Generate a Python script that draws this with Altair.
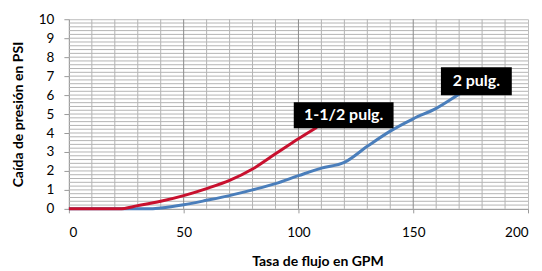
import altair as alt
import pandas as pd

# Series: 1-1/2 pulg. (red)
flow_15 = [0, 10, 20, 22, 30, 40, 50, 60, 70, 80, 90, 100, 108]
psi_15 = [0, 0, 0, 0, 0.17, 0.4, 0.7, 1.07, 1.5, 2.1, 2.9, 3.7, 4.3]

# Series: 2 pulg. (blue)
flow_2 = [0, 10, 20, 30, 35, 40, 50, 60, 70, 80, 90, 100, 110, 120, 130, 140, 150, 160, 170, 172]
psi_2 = [0, 0, 0, 0, 0, 0.05, 0.22, 0.45, 0.7, 1.0, 1.33, 1.75, 2.15, 2.45, 3.3, 4.1, 4.75, 5.3, 6.05, 6.2]

# Data labels
label_text = ["1-1/2 pulg.", "2 pulg."]
label_x = [119.7, 177.5]
label_y = [4.94, 6.73]

# Axis ticks / gridlines
x_major_ticks = [0, 50, 100, 150, 200]
x_minor_grid = [v for v in range(10, 200, 10) if v % 50 != 0]
y_ticks = list(range(0, 11))
y_minor_grid = [round(i * 0.2, 1) for i in range(1, 50)]

df15 = pd.DataFrame({"x": flow_15, "y": psi_15})
df2 = pd.DataFrame({"x": flow_2, "y": psi_2})
lab = pd.DataFrame({"label": label_text, "x": label_x, "y": label_y})

FONT = "Lato"

xscale = alt.Scale(domain=[0, 200], nice=False)
yscale = alt.Scale(domain=[0, 10], nice=False)

xaxis = alt.Axis(
    values=x_major_ticks,
    title="Tasa de flujo en GPM",
    grid=False,
    tickColor="#9a9a9a",
    tickSize=4,
    domainColor="#9a9a9a",
    labelFont=FONT, labelFontSize=13.5, labelColor="#000000", labelPadding=13,
    titleFont=FONT, titleFontSize=14, titleFontWeight="bold", titleColor="#000000",
    titleX=249, titleY=53, titleBaseline="middle", titleAnchor="start", titleAlign="center",
)
yaxis = alt.Axis(
    values=y_ticks,
    title="Caída de presión en PSI",
    grid=False,
    tickColor="#9a9a9a",
    tickSize=5,
    domainColor="#9a9a9a",
    labelFont=FONT, labelFontSize=13.5, labelColor="#000000", labelPadding=10,
    titleFont=FONT, titleFontSize=14, titleFontWeight="bold", titleColor="#000000",
    titleX=-50, titleY=95, titleBaseline="middle", titleAnchor="start", titleAlign="center",
)

X = alt.X("x:Q", scale=xscale, axis=xaxis)
Y = alt.Y("y:Q", scale=yscale, axis=yaxis)

hgrid = alt.Chart(pd.DataFrame({"y": y_minor_grid})).mark_rule(
    color="#b4b4b4", strokeWidth=1
).encode(y=Y)
vgrid_minor = alt.Chart(pd.DataFrame({"x": x_minor_grid})).mark_rule(
    color="#b4b4b4", strokeWidth=1
).encode(x=X)
vgrid_major = alt.Chart(pd.DataFrame({"x": x_major_ticks[1:-1]})).mark_rule(
    color="#8c8c8c", strokeWidth=1
).encode(x=X)

blue = alt.Chart(df2).mark_line(color="#4a7ebb", strokeWidth=3, interpolate="monotone").encode(x=X, y=Y)
red = alt.Chart(df15).mark_line(color="#c8102e", strokeWidth=3, interpolate="monotone").encode(x=X, y=Y)

rect1 = alt.Chart(lab).transform_filter(alt.datum.label == label_text[0]).mark_rect(
    color="#000000", width=100, height=26
).encode(x=X, y=Y)
rect2 = alt.Chart(lab).transform_filter(alt.datum.label == label_text[1]).mark_rect(
    color="#000000", width=71, height=28
).encode(x=X, y=Y)
texts = alt.Chart(lab).mark_text(
    font=FONT, fontSize=16, fontWeight="bold", color="#ffffff", align="center", baseline="middle"
).encode(x=X, y=Y, text="label:N")

chart = alt.layer(hgrid, vgrid_minor, vgrid_major, blue, red, rect1, rect2, texts).properties(
    width=460,
    height=190,
    padding={"left": 61, "top": 11, "right": 6, "bottom": 60},
    autosize=alt.AutoSizeParams(type="none"),
    background="#ffffff",
).configure_view(stroke="#bdbdbd")

chart.save("out.html", embed_options={"renderer": "svg", "actions": False})
